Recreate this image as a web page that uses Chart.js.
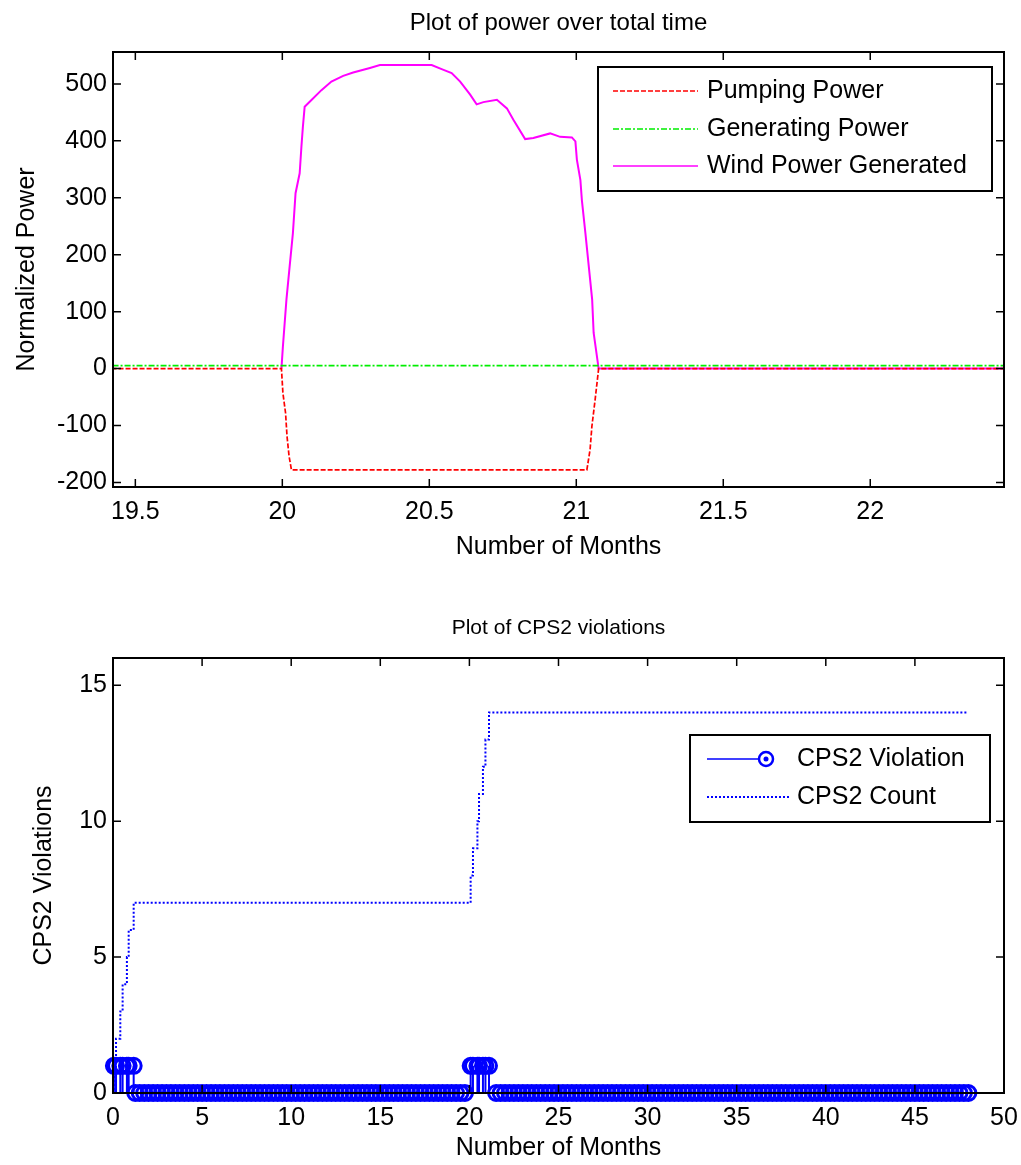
<!DOCTYPE html>
<html>
<head>
<meta charset="utf-8">
<script src="https://cdn.jsdelivr.net/npm/chart.js@4.4.0/dist/chart.umd.min.js"></script>
<style>
    html, body { margin: 0; padding: 0; background: #ffffff; }
    canvas { display: block; }
</style>
</head>
<body>
<canvas id="graficopotencia" width="1021" height="580"></canvas>
<canvas id="graficocps2" width="1021" height="585"></canvas>
<script>
// ---- grafico de potencia (meses 19.4 a 22.5) ----
const pumpMonths = [19.3, 19.997, 20.002, 20.011, 20.016, 20.023, 20.031, 21.036, 21.047, 21.053, 21.064, 21.076, 22.6];
const pumpPower = [0, 0, -43, -78, -119, -154, -178, -178, -142, -102, -55, 0, 0];

const genMonths = [19.3, 22.6];
const genPower = [5, 5];

const windMonths = [19.997, 20.002, 20.008, 20.014, 20.025, 20.036, 20.045, 20.059, 20.065, 20.070, 20.076,
    20.1, 20.133, 20.167, 20.207, 20.241, 20.298, 20.332, 20.42, 20.508, 20.542, 20.576, 20.605, 20.639,
    20.661, 20.684, 20.730, 20.764, 20.786, 20.826, 20.854, 20.911, 20.945, 20.985, 20.997, 21.002,
    21.014, 21.019, 21.031, 21.054, 21.059, 21.076, 22.6];
const windPower = [0, 39, 80, 121, 180, 238, 308, 343, 390, 425, 460,
    472, 489, 504, 514, 520, 528, 533, 533, 533, 526, 519, 504, 481,
    464, 468, 472, 457, 437, 403, 405, 413, 407, 406, 399, 367,
    331, 296, 238, 121, 63, 0, 0];

const topXTicks = [19.5, 20, 20.5, 21, 21.5, 22];
const topYTicks = [-200, -100, 0, 100, 200, 300, 400, 500];

// ---- grafico de violacoes CPS2 ----
const violationOneMonths = [0.05, 0.17, 0.41, 0.54, 0.78, 0.88, 1.16, 20.07, 20.2, 20.45, 20.54, 20.76, 20.9, 21.1];
const violationZeroMonths = [
    1.25, 1.5, 1.75, 2, 2.25, 2.5, 2.75, 3, 3.25, 3.5, 3.75, 4, 4.25, 4.5, 4.75, 5, 5.25, 5.5, 5.75, 6,
    6.25, 6.5, 6.75, 7, 7.25, 7.5, 7.75, 8, 8.25, 8.5, 8.75, 9, 9.25, 9.5, 9.75, 10, 10.25, 10.5, 10.75, 11,
    11.25, 11.5, 11.75, 12, 12.25, 12.5, 12.75, 13, 13.25, 13.5, 13.75, 14, 14.25, 14.5, 14.75, 15, 15.25,
    15.5, 15.75, 16, 16.25, 16.5, 16.75, 17, 17.25, 17.5, 17.75, 18, 18.25, 18.5, 18.75, 19, 19.25, 19.5, 19.75,
    21.5, 21.75, 22, 22.25, 22.5, 22.75, 23, 23.25, 23.5, 23.75, 24, 24.25, 24.5, 24.75, 25, 25.25, 25.5,
    25.75, 26, 26.25, 26.5, 26.75, 27, 27.25, 27.5, 27.75, 28, 28.25, 28.5, 28.75, 29, 29.25, 29.5, 29.75,
    30, 30.25, 30.5, 30.75, 31, 31.25, 31.5, 31.75, 32, 32.25, 32.5, 32.75, 33, 33.25, 33.5, 33.75, 34,
    34.25, 34.5, 34.75, 35, 35.25, 35.5, 35.75, 36, 36.25, 36.5, 36.75, 37, 37.25, 37.5, 37.75, 38, 38.25,
    38.5, 38.75, 39, 39.25, 39.5, 39.75, 40, 40.25, 40.5, 40.75, 41, 41.25, 41.5, 41.75, 42, 42.25, 42.5,
    42.75, 43, 43.25, 43.5, 43.75, 44, 44.25, 44.5, 44.75, 45, 45.25, 45.5, 45.75, 46, 46.25, 46.5, 46.75,
    47, 47.25, 47.5, 47.75, 48];

const countMonths = [0, 0.05, 0.17, 0.41, 0.54, 0.78, 0.88, 1.16, 20.07, 20.2, 20.45, 20.54, 20.76, 20.9, 21.1, 48];
const countValues = [0, 1, 2, 3, 4, 5, 6, 7, 8, 9, 10, 11, 12, 13, 14, 14];

const bottomXTicks = [0, 5, 10, 15, 20, 25, 30, 35, 40, 45, 50];
const bottomYTicks = [0, 5, 10, 15];

const fonte = "'Liberation Sans', Arial, Helvetica, sans-serif";
const corTexto = '#000000';

function pontos(xs, ys) {
    return xs.map((x, i) => ({ x: x, y: ys[i] }));
}

// titulo centrado sobre a area do grafico (como no MATLAB)
const tituloMatlab = {
    id: 'tituloMatlab',
    afterDraw(chart, args, opts) {
        const { ctx, chartArea: a } = chart;
        ctx.save();
        ctx.fillStyle = corTexto;
        ctx.font = opts.size + 'px ' + fonte;
        ctx.textAlign = 'center';
        ctx.textBaseline = 'middle';
        ctx.fillText(opts.text, (a.left + a.right) / 2, opts.y);
        ctx.restore();
    }
};

// caixa estilo MATLAB com ticks para dentro nos 4 lados
const caixaMatlab = {
    id: 'caixaMatlab',
    afterDraw(chart) {
        const { ctx, chartArea: a, scales } = chart;
        const x = scales.x, y = scales.y;
        ctx.save();
        ctx.strokeStyle = '#000';
        ctx.lineWidth = 1.5;
        ctx.beginPath();
        x.ticks.forEach(t => {
            const px = x.getPixelForValue(t.value);
            ctx.moveTo(px, a.bottom); ctx.lineTo(px, a.bottom - 8);
            ctx.moveTo(px, a.top); ctx.lineTo(px, a.top + 8);
        });
        y.ticks.forEach(t => {
            const py = y.getPixelForValue(t.value);
            ctx.moveTo(a.left, py); ctx.lineTo(a.left + 8, py);
            ctx.moveTo(a.right, py); ctx.lineTo(a.right - 8, py);
        });
        ctx.stroke();
        ctx.lineWidth = 2;
        ctx.strokeRect(a.left, a.top, a.right - a.left, a.bottom - a.top);
        ctx.restore();
    }
};

// hastes do grafico stem
const hastes = {
    id: 'hastes',
    beforeDatasetsDraw(chart) {
        const { ctx, scales: { x, y } } = chart;
        ctx.save();
        chart.data.datasets.forEach(ds => {
            if (!ds.stem) return;
            ctx.strokeStyle = ds.pointBorderColor;
            ctx.lineWidth = 2;
            ctx.beginPath();
            ds.data.forEach(p => {
                if (p.y === 0) return;
                const px = x.getPixelForValue(p.x);
                ctx.moveTo(px, y.getPixelForValue(0));
                ctx.lineTo(px, y.getPixelForValue(p.y));
            });
            ctx.stroke();
        });
        ctx.restore();
    }
};

// legenda em caixa estilo MATLAB
const legendaMatlab = {
    id: 'legendaMatlab',
    afterDraw(chart, args, opts) {
        const { ctx } = chart;
        const b = opts.box;
        ctx.save();
        ctx.fillStyle = '#fff';
        ctx.fillRect(b.x, b.y, b.w, b.h);
        ctx.strokeStyle = '#000';
        ctx.lineWidth = 2;
        ctx.strokeRect(b.x, b.y, b.w, b.h);
        chart.data.datasets.forEach((ds, i) => {
            const yy = opts.rows[i];
            ctx.strokeStyle = ds.legendColor || ds.borderColor;
            ctx.lineWidth = ds.legendWidth || 1.6;
            ctx.setLineDash(ds.borderDash || []);
            ctx.beginPath();
            ctx.moveTo(opts.lineStart, yy);
            ctx.lineTo(ds.stem ? opts.markerX : opts.lineEnd, yy);
            ctx.stroke();
            ctx.setLineDash([]);
            if (ds.stem) {
                ctx.lineWidth = 2.5;
                ctx.beginPath();
                ctx.arc(opts.markerX + 7, yy, 7, 0, Math.PI * 2);
                ctx.stroke();
                ctx.fillStyle = ds.pointBorderColor;
                ctx.beginPath();
                ctx.arc(opts.markerX + 7, yy, 2.5, 0, Math.PI * 2);
                ctx.fill();
            }
            ctx.fillStyle = corTexto;
            ctx.font = '25px ' + fonte;
            ctx.textBaseline = 'middle';
            ctx.textAlign = 'left';
            ctx.fillText(ds.label, opts.textX, yy);
        });
        ctx.restore();
    }
};

function eixo(min, max, ticksList, fitSize, horizontal, titulo, tituloPad) {
    return {
        type: 'linear',
        min: min,
        max: max,
        afterBuildTicks: s => { s.ticks = ticksList.map(v => ({ value: v })); },
        afterFit: s => {
            if (horizontal) {
                s.height = fitSize;
                s.paddingLeft = 0;
                s.paddingRight = 0;
            } else {
                s.width = fitSize;
                s.paddingTop = 0;
                s.paddingBottom = 0;
            }
        },
        grid: { display: false, drawTicks: false },
        border: { display: false },
        ticks: {
            color: corTexto,
            font: { family: fonte, size: 25 },
            padding: horizontal ? 10 : 6,
            maxRotation: 0,
            autoSkip: false,
            callback: v => String(v)
        },
        title: {
            display: true,
            text: titulo,
            color: corTexto,
            font: { family: fonte, size: 25 },
            padding: tituloPad
        }
    };
}

new Chart(document.getElementById('graficopotencia').getContext('2d'), {
    type: 'line',
    data: {
        datasets: [
            { label: 'Pumping Power', data: pontos(pumpMonths, pumpPower), borderColor: '#ff0000', borderWidth: 1.7, borderDash: [5, 2], pointRadius: 0, fill: false },
            { label: 'Generating Power', data: pontos(genMonths, genPower), borderColor: '#00ee00', borderWidth: 1.7, borderDash: [6, 2, 2, 2], pointRadius: 0, fill: false },
            { label: 'Wind Power Generated', data: pontos(windMonths, windPower), borderColor: '#ff00ff', borderWidth: 2, pointRadius: 0, fill: false }
        ]
    },
    options: {
        responsive: false,
        animation: false,
        layout: { padding: { left: 0, right: 17, top: 52, bottom: 0 } },
        plugins: {
            legend: { display: false },
            tooltip: { enabled: false },
            title: { display: false },
            tituloMatlab: { text: 'Plot of power over total time', size: 24, y: 23 },
            legendaMatlab: {
                box: { x: 598, y: 67, w: 394, h: 124 },
                rows: [91, 129, 166],
                lineStart: 613, lineEnd: 698, markerX: 698, textX: 707
            }
        },
        scales: {
            x: eixo(19.424, 22.455, topXTicks, 93, true, 'Number of Months', { top: 0, bottom: 18 }),
            y: eixo(-208, 556, topYTicks, 113, false, 'Normalized Power', { top: 12, bottom: 0 })
        }
    },
    plugins: [caixaMatlab, legendaMatlab, tituloMatlab]
});

const violationPoints = violationOneMonths.map(m => ({ x: m, y: 1 }))
    .concat(violationZeroMonths.map(m => ({ x: m, y: 0 })));

new Chart(document.getElementById('graficocps2').getContext('2d'), {
    type: 'line',
    data: {
        datasets: [
            {
                label: 'CPS2 Violation', data: violationPoints, stem: true, showLine: false,
                borderColor: '#0000ff', legendColor: '#0000ff',
                pointRadius: 7.5, pointBorderWidth: 3, pointBorderColor: '#0000ff',
                pointBackgroundColor: 'rgba(0,0,0,0)', clip: false
            },
            {
                label: 'CPS2 Count', data: pontos(countMonths, countValues), stepped: true,
                borderColor: '#0000ff', borderWidth: 2, borderDash: [2, 2], legendWidth: 2,
                pointRadius: 0, fill: false
            }
        ]
    },
    options: {
        responsive: false,
        animation: false,
        layout: { padding: { left: 0, right: 17, top: 78, bottom: 0 } },
        plugins: {
            legend: { display: false },
            tooltip: { enabled: false },
            title: { display: false },
            tituloMatlab: { text: 'Plot of CPS2 violations', size: 21, y: 48 },
            legendaMatlab: {
                box: { x: 690, y: 155, w: 300, h: 87 },
                rows: [179, 217],
                lineStart: 707, lineEnd: 790, markerX: 759, textX: 797
            }
        },
        scales: {
            x: eixo(0, 50, bottomXTicks, 72, true, 'Number of Months', { top: 0, bottom: 2 }),
            y: eixo(0, 16, bottomYTicks, 113, false, 'CPS2 Violations', { top: 29, bottom: 0 })
        }
    },
    plugins: [hastes, caixaMatlab, legendaMatlab, tituloMatlab]
});
</script>
</body>
</html>
